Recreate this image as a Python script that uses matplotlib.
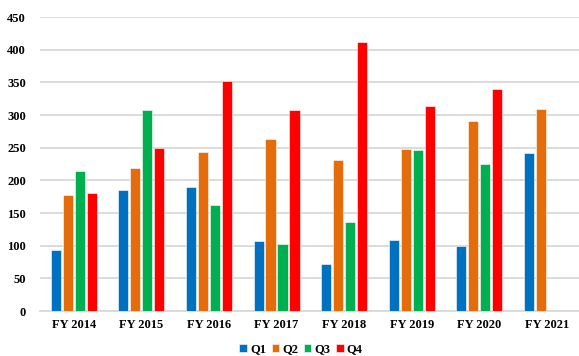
import matplotlib
matplotlib.use("Agg")
import matplotlib.pyplot as plt
import numpy as np

years = ["FY 2014", "FY 2015", "FY 2016", "FY 2017", "FY 2018", "FY 2019", "FY 2020", "FY 2021"]
q1 = [94, 185, 190, 107, 72, 109, 100, 242]
q2 = [177, 219, 244, 263, 231, 248, 291, 310]
q3 = [214, 308, 162, 103, 136, 246, 225, np.nan]
q4 = [181, 249, 352, 308, 412, 314, 340, np.nan]
quarters = ["Q1", "Q2", "Q3", "Q4"]
colors = ["#0070C0", "#E46C0A", "#00B050", "#FF0000"]

plt.rcParams["font.family"] = ["Liberation Serif", "DejaVu Serif"]

fig = plt.figure(figsize=(5.79, 3.56), dpi=100)
ax = fig.add_axes([0.069, 0.126, 0.934, 0.826])

x = np.arange(len(years))
pitch = 0.177
width = 0.15
for i, (vals, c, name) in enumerate(zip([q1, q2, q3, q4], colors, quarters)):
    ax.bar(x + (i - 1.5) * pitch, vals, width, color=c, label=name,
           edgecolor="white", linewidth=0.4, zorder=3)

ax.set_xlim(-0.5, len(years) - 0.5)
ax.set_ylim(0, 450)
ax.set_yticks(np.arange(0, 451, 50))
ax.set_xticks(x)
ax.set_xticklabels(years)
ax.yaxis.grid(True, color="#D9D9D9", linewidth=1.3, zorder=0)
ax.set_axisbelow(True)
for s in ["top", "right", "left"]:
    ax.spines[s].set_visible(False)
ax.spines["bottom"].set_color("#D9D9D9")
ax.spines["bottom"].set_linewidth(1.3)
ax.tick_params(axis="both", length=0, labelsize=9)
ax.tick_params(axis="x", pad=6)
ax.tick_params(axis="y", pad=10)
for lab in ax.get_xticklabels() + ax.get_yticklabels():
    lab.set_fontweight("bold")

leg = fig.legend(loc="center", bbox_to_anchor=(0.52, 0.018), ncol=4, frameon=False,
                 prop={"weight": "bold", "size": 9}, handlelength=0.6, handleheight=0.6,
                 handletextpad=0.25, columnspacing=0.45, borderaxespad=0)

fig.savefig("out.png", dpi=100)
